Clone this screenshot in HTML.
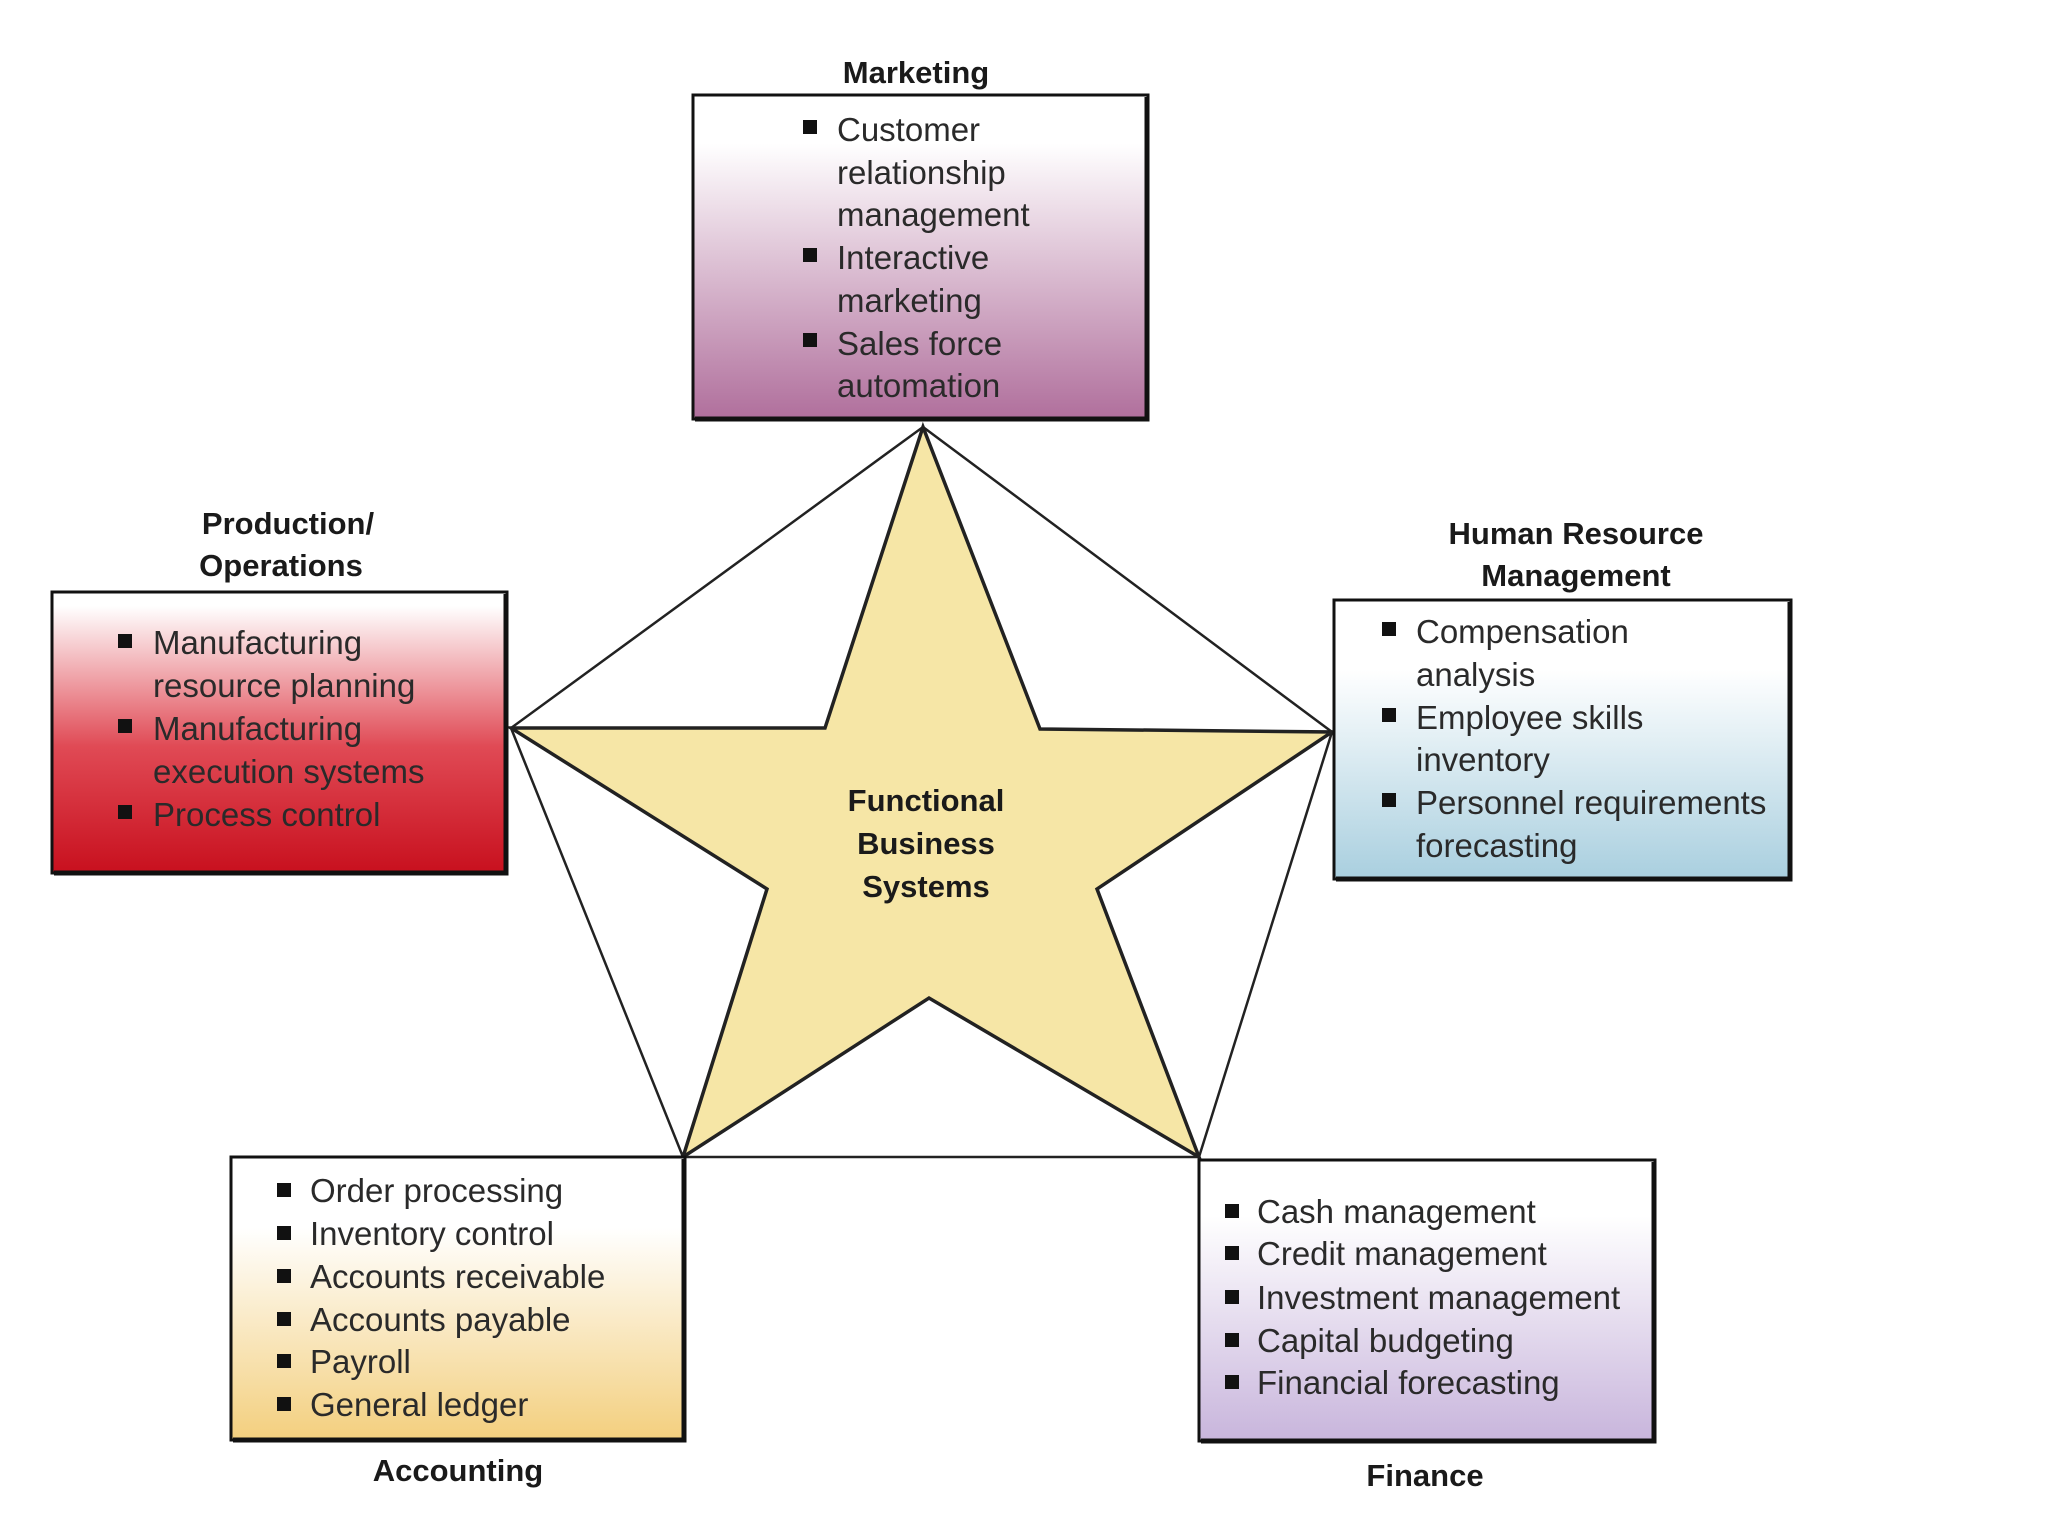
<!DOCTYPE html>
<html><head><meta charset="utf-8"><style>
html,body{margin:0;padding:0;background:#fff;}
svg{display:block;}
text{font-family:"Liberation Sans",sans-serif;}
.t{font-size:33px;fill:#2a2a2a;}
.h{font-size:31px;font-weight:bold;fill:#1a1a1a;text-anchor:middle;}
</style></head><body>
<svg width="2048" height="1536" viewBox="0 0 2048 1536" xmlns="http://www.w3.org/2000/svg">
<defs>
<linearGradient id="gm" x1="0" y1="0" x2="0" y2="1"><stop offset="0.15" stop-color="#fff"/><stop offset="1" stop-color="#b06f9c"/></linearGradient>
<linearGradient id="gp" x1="0" y1="0" x2="0" y2="1"><stop offset="0.05" stop-color="#fff"/><stop offset="0.55" stop-color="#e04a55"/><stop offset="1" stop-color="#c8101e"/></linearGradient>
<linearGradient id="gh" x1="0" y1="0" x2="0" y2="1"><stop offset="0.25" stop-color="#fff"/><stop offset="1" stop-color="#a9cfdf"/></linearGradient>
<linearGradient id="ga" x1="0" y1="0" x2="0" y2="1"><stop offset="0.25" stop-color="#fff"/><stop offset="1" stop-color="#f3cf7e"/></linearGradient>
<linearGradient id="gf" x1="0" y1="0" x2="0" y2="1"><stop offset="0.2" stop-color="#fff"/><stop offset="1" stop-color="#c8b5dc"/></linearGradient>
</defs>
<g transform="translate(-4,-4)">
<polygon points="927,431 1336,736 1203,1161 687,1161 515,732" fill="none" stroke="#222" stroke-width="2.5"/>
<polygon points="927,431 1044,733 1336,736 1101,893 1203,1161 933,1002 687,1161 771,893 515,732 829,732" fill="#f6e6a6" stroke="#222" stroke-width="3.5"/>
<text class="h" x="930" y="815">Functional</text>
<text class="h" x="930" y="858">Business</text>
<text class="h" x="930" y="901">Systems</text>

<g stroke="#111">
<rect x="697" y="99" width="455" height="324" fill="url(#gm)" stroke-width="3"/>
<rect x="56" y="596" width="455" height="281" fill="url(#gp)" stroke-width="3"/>
<rect x="1338" y="604" width="457" height="279" fill="url(#gh)" stroke-width="3"/>
<rect x="235" y="1161" width="454" height="283" fill="url(#ga)" stroke-width="3"/>
<rect x="1203" y="1164" width="456" height="281" fill="url(#gf)" stroke-width="3"/>
</g>
<g stroke="#111" stroke-width="5" fill="none">
<polyline points="1151,101 1151,423 699,423"/>
<polyline points="510,598 510,877 58,877"/>
<polyline points="1794,606 1794,883 1340,883"/>
<polyline points="688,1163 688,1444 237,1444"/>
<polyline points="1658,1166 1658,1445 1205,1445"/>
</g>

<text class="h" x="920" y="87">Marketing</text>
<text class="h" x="292" y="538">Production/</text>
<text class="h" x="285" y="580">Operations</text>
<text class="h" x="1580" y="548">Human Resource</text>
<text class="h" x="1580" y="590">Management</text>
<text class="h" x="462" y="1485">Accounting</text>
<text class="h" x="1429" y="1490">Finance</text>

<g fill="#111">
<rect x="807" y="124" width="14" height="14"/><rect x="807" y="252" width="14" height="14"/><rect x="807" y="337" width="14" height="14"/>
<rect x="122" y="638" width="14" height="14"/><rect x="122" y="723" width="14" height="14"/><rect x="122" y="809" width="14" height="14"/>
<rect x="1386" y="626" width="14" height="14"/><rect x="1386" y="712" width="14" height="14"/><rect x="1386" y="797" width="14" height="14"/>
<rect x="281" y="1187" width="14" height="14"/><rect x="281" y="1230" width="14" height="14"/><rect x="281" y="1273" width="14" height="14"/><rect x="281" y="1316" width="14" height="14"/><rect x="281" y="1358" width="14" height="14"/><rect x="281" y="1401" width="14" height="14"/>
<rect x="1229" y="1208" width="14" height="14"/><rect x="1229" y="1250" width="14" height="14"/><rect x="1229" y="1294" width="14" height="14"/><rect x="1229" y="1337" width="14" height="14"/><rect x="1229" y="1379" width="14" height="14"/>
</g>

<g class="t">
<text class="t" x="841" y="145">Customer</text>
<text class="t" x="841" y="188">relationship</text>
<text class="t" x="841" y="230">management</text>
<text class="t" x="841" y="273">Interactive</text>
<text class="t" x="841" y="316">marketing</text>
<text class="t" x="841" y="359">Sales force</text>
<text class="t" x="841" y="401">automation</text>

<text class="t" x="157" y="658">Manufacturing</text>
<text class="t" x="157" y="701">resource planning</text>
<text class="t" x="157" y="744">Manufacturing</text>
<text class="t" x="157" y="787">execution systems</text>
<text class="t" x="157" y="830">Process control</text>

<text class="t" x="1420" y="647">Compensation</text>
<text class="t" x="1420" y="690">analysis</text>
<text class="t" x="1420" y="733">Employee skills</text>
<text class="t" x="1420" y="775">inventory</text>
<text class="t" x="1420" y="818">Personnel requirements</text>
<text class="t" x="1420" y="861">forecasting</text>

<text class="t" x="314" y="1206">Order processing</text>
<text class="t" x="314" y="1249">Inventory control</text>
<text class="t" x="314" y="1292">Accounts receivable</text>
<text class="t" x="314" y="1335">Accounts payable</text>
<text class="t" x="314" y="1377">Payroll</text>
<text class="t" x="314" y="1420">General ledger</text>

<text class="t" x="1261" y="1227">Cash management</text>
<text class="t" x="1261" y="1269">Credit management</text>
<text class="t" x="1261" y="1313">Investment management</text>
<text class="t" x="1261" y="1356">Capital budgeting</text>
<text class="t" x="1261" y="1398">Financial forecasting</text>
</g>
</g>
</svg>
</body></html>
